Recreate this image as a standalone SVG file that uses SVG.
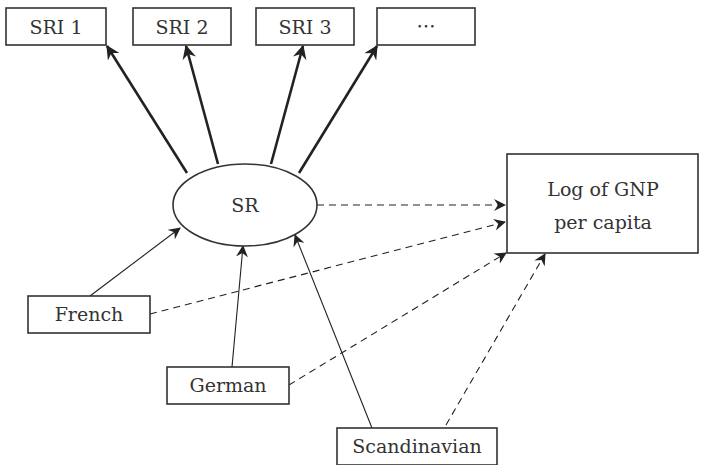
<svg xmlns="http://www.w3.org/2000/svg" width="703" height="465" viewBox="0 0 703 465">
<style>
.box{fill:#fff;stroke:#333;stroke-width:1.6}
.t{font-family:"DejaVu Serif","Liberation Serif",serif;font-size:19px;fill:#333;text-anchor:middle}
.cjk{font-family:"Noto Sans CJK JP","DejaVu Serif",serif}
.thick{stroke:#222;stroke-width:2.6;fill:none}
.thin{stroke:#222;stroke-width:1.1;fill:none}
.dash{stroke:#222;stroke-width:1.1;fill:none;stroke-dasharray:7,5}
</style>
<defs>
<marker id="ah" viewBox="0 0 12 12" refX="11" refY="6" markerWidth="12" markerHeight="12" markerUnits="userSpaceOnUse" orient="auto">
<path d="M0,0 L12,6 L0,12 L4,6 Z" fill="#222"/>
</marker>
<marker id="ahb" viewBox="0 0 12 12" refX="11" refY="6" markerWidth="14" markerHeight="14" markerUnits="userSpaceOnUse" orient="auto">
<path d="M0,0 L12,6 L0,12 L4,6 Z" fill="#222"/>
</marker>
</defs>
<g id="connectors">
<line class="thick" x1="187" y1="173" x2="107" y2="46" marker-end="url(#ahb)"/>
<line class="thick" x1="218" y1="164" x2="186" y2="46" marker-end="url(#ahb)"/>
<line class="thick" x1="271" y1="164" x2="303" y2="46" marker-end="url(#ahb)"/>
<line class="thick" x1="299" y1="173" x2="377" y2="46" marker-end="url(#ahb)"/>
<line class="thin" x1="90" y1="296" x2="180" y2="228" marker-end="url(#ah)"/>
<line class="thin" x1="232" y1="367" x2="243" y2="246" marker-end="url(#ah)"/>
<line class="thin" x1="372" y1="428" x2="295" y2="235" marker-end="url(#ah)"/>
<line class="dash" x1="317" y1="205" x2="505" y2="205" marker-end="url(#ah)"/>
<line class="dash" x1="150" y1="314" x2="505" y2="222" marker-end="url(#ah)"/>
<line class="dash" x1="289" y1="385" x2="506" y2="253" marker-end="url(#ah)"/>
<line class="dash" x1="446" y1="425" x2="545" y2="254" marker-end="url(#ah)"/>
</g>
<g id="sri1"><rect class="box" x="6" y="8" width="100" height="37"/><text class="t" x="56" y="34">SRI 1</text></g>
<g id="sri2"><rect class="box" x="133" y="8" width="98" height="37"/><text class="t" x="182" y="34">SRI 2</text></g>
<g id="sri3"><rect class="box" x="256" y="8" width="98" height="37"/><text class="t" x="305" y="34">SRI 3</text></g>
<g id="sri4"><rect class="box" x="377" y="8" width="98" height="37"/><text class="t cjk" x="426" y="34">…</text></g>
<g id="sr"><ellipse class="box" cx="245" cy="205" rx="72" ry="41"/><text class="t" x="245" y="212">SR</text></g>
<g id="gnp"><rect class="box" x="507" y="154" width="191" height="99"/><text class="t" x="603" y="196">Log of GNP</text><text class="t" x="603" y="229">per capita</text></g>
<g id="french"><rect class="box" x="28" y="296" width="122" height="37"/><text class="t" x="89" y="321">French</text></g>
<g id="german"><rect class="box" x="167" y="367" width="122" height="37"/><text class="t" x="228" y="392">German</text></g>
<g id="scand"><rect class="box" x="337" y="428" width="160" height="37"/><text class="t" x="417" y="453">Scandinavian</text></g>
</svg>
